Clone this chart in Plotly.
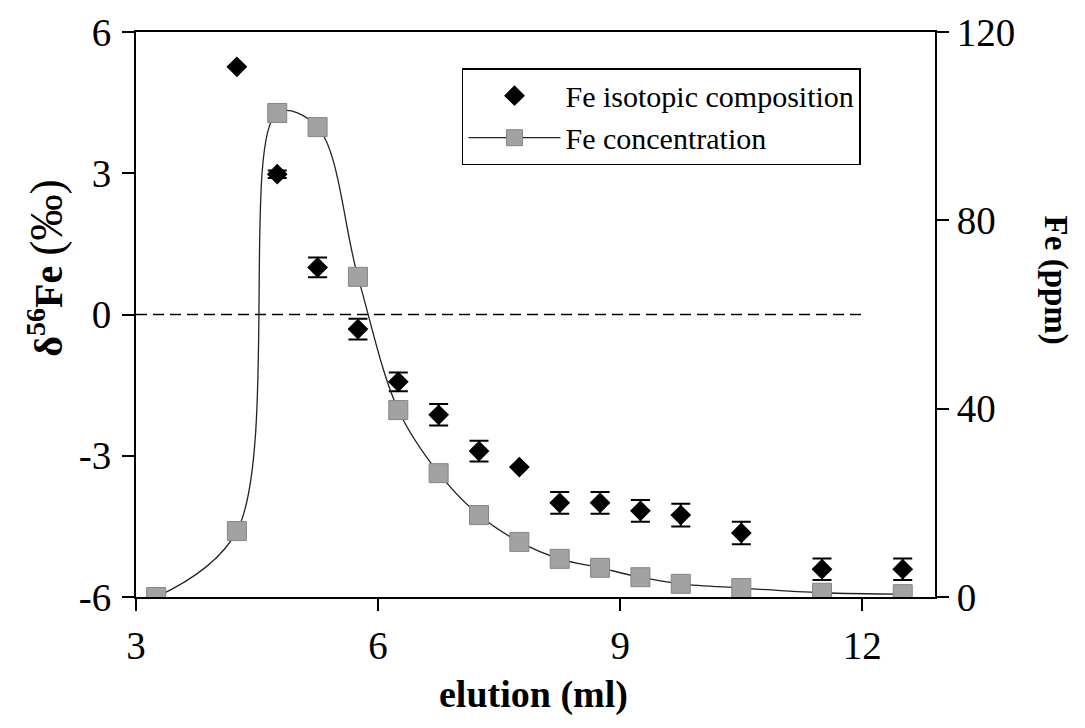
import plotly.graph_objects as go

# Fe isotopic composition (left axis, permil)
iso_x = [4.25, 4.75, 5.25, 5.75, 6.25, 6.75, 7.25, 7.75, 8.25, 8.75, 9.25, 9.75, 10.5, 11.5, 12.5]
iso_y = [5.26, 2.98, 1.0, -0.31, -1.43, -2.13, -2.9, -3.24, -4.0, -4.0, -4.17, -4.26, -4.64, -5.41, -5.41]
iso_err = [0.0, 0.08, 0.21, 0.22, 0.2, 0.23, 0.22, 0.0, 0.23, 0.23, 0.23, 0.24, 0.24, 0.23, 0.23]

# Fe concentration (right axis, ppm)
conc_x = [3.25, 4.25, 4.75, 5.25, 5.75, 6.25, 6.75, 7.25, 7.75, 8.25, 8.75, 9.25, 9.75, 10.5, 11.5, 12.5]
conc_y = [0.0, 14.0, 102.8, 99.8, 68.0, 39.7, 26.3, 17.4, 11.7, 8.1, 6.2, 4.2, 2.8, 1.9, 0.9, 0.6]

zero_x = [3, 12]
zero_y = [0, 0]

x_ticks = [3, 6, 9, 12]
y_ticks = [-6, -3, 0, 3, 6]
y_ticktext = ["-6", "-3", "0", "3", "6"]
y2_ticks = [0, 40, 80, 120]

FONT = "Liberation Serif, Times New Roman, Times, serif"

fig = go.Figure()

fig.add_trace(go.Scatter(
    x=zero_x, y=zero_y, mode="lines", showlegend=False,
    line=dict(color="black", width=1.5, dash="11px,6px"), hoverinfo="skip"))

fig.add_trace(go.Scatter(
    x=conc_x, y=conc_y, yaxis="y2", mode="lines+markers",
    name="Fe concentration",
    line=dict(color="#222222", width=1.3, shape="spline", smoothing=1),
    marker=dict(symbol="square", size=19, color="#a2a2a2",
                line=dict(color="#858585", width=1))))

fig.add_trace(go.Scatter(
    x=iso_x, y=iso_y, mode="markers", name="Fe isotopic composition",
    marker=dict(symbol="diamond", size=16, color="black"),
    error_y=dict(type="data", array=iso_err, visible=True, color="black",
                 thickness=2, width=9.5)))

axis_common = dict(showline=True, linecolor="black", linewidth=2,
                   ticks="outside", ticklen=12, tickwidth=2, tickcolor="black",
                   showgrid=False, zeroline=False, automargin=False,
                   tickfont=dict(family=FONT, size=39, color="black"))

# page body has an 8px margin: figure is offset by 8px
fig.update_layout(
    width=1069, height=712,
    margin=dict(l=128, r=142, t=24, b=123),
    paper_bgcolor="white", plot_bgcolor="white",
    font=dict(family=FONT, color="black"),
    xaxis=dict(range=[3, 12.9], tickvals=x_ticks, mirror=True,
               ticklabelstandoff=1, **axis_common),
    yaxis=dict(range=[-6, 6], tickvals=y_ticks, ticktext=y_ticktext,
               ticklabelstandoff=3, **axis_common),
    yaxis2=dict(range=[0, 120], tickvals=y2_ticks, overlaying="y", side="right",
                ticklabelstandoff=0, **axis_common),
    legend=dict(x=0.408, y=0.936, xanchor="left", yanchor="top",
                bordercolor="black", borderwidth=1.5, bgcolor="white",
                font=dict(family=FONT, size=30, color="black"),
                traceorder="reversed", itemwidth=92),
    showlegend=True,
)

fig.add_annotation(text="<b>δ<sup>56</sup>Fe</b> <span style='font-size:46px'>(‰)</span>",
                   textangle=-90, xref="paper", yref="paper", x=-0.112, y=0.582,
                   xanchor="center", yanchor="middle",
                   showarrow=False, font=dict(family=FONT, size=40, color="black"))
fig.add_annotation(text="<b>Fe (ppm)</b>", textangle=90,
                   xref="paper", yref="paper", x=1.152, y=0.561,
                   xanchor="center", yanchor="middle",
                   showarrow=False, font=dict(family=FONT, size=33, color="black"))
fig.add_annotation(text="<b>elution (ml)</b>",
                   xref="paper", yref="paper", x=0.497, y=-0.172,
                   xanchor="center", yanchor="middle",
                   showarrow=False, font=dict(family=FONT, size=38, color="black"))

fig.write_html("out.html")
